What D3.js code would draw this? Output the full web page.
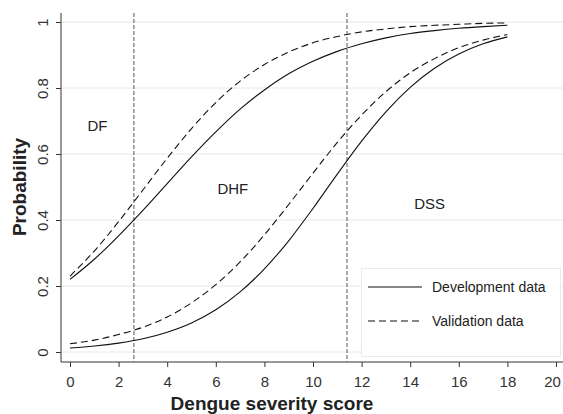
<!DOCTYPE html>
<html>
<head>
<meta charset="utf-8">
<script src="https://cdn.jsdelivr.net/npm/d3@7"></script>
<style>
  body { margin: 0; background: #fff; }
  svg { font-family: "Liberation Sans", Arial, sans-serif; }
</style>
</head>
<body>
<svg id="chart" width="563" height="414"></svg>
<script>
// score values
const scores = [0, 1, 2, 3, 4, 5, 6, 7, 8, 9, 10, 11, 12, 13, 14, 15, 16, 17, 18];
// upper curves (DHF or worse), lower curves (DSS)
const devUpper = [0.220, 0.281, 0.352, 0.429, 0.510, 0.591, 0.667, 0.736, 0.794, 0.843, 0.881, 0.911, 0.934, 0.952, 0.965, 0.974, 0.981, 0.986, 0.990];
const valUpper = [0.230, 0.306, 0.395, 0.491, 0.587, 0.677, 0.756, 0.821, 0.871, 0.909, 0.937, 0.956, 0.970, 0.979, 0.986, 0.990, 0.993, 0.996, 0.997];
const devLower = [0.012, 0.018, 0.027, 0.040, 0.060, 0.088, 0.128, 0.182, 0.252, 0.337, 0.435, 0.539, 0.639, 0.728, 0.802, 0.860, 0.903, 0.934, 0.955];
const valLower = [0.025, 0.036, 0.053, 0.075, 0.106, 0.149, 0.204, 0.273, 0.355, 0.447, 0.542, 0.635, 0.718, 0.789, 0.846, 0.889, 0.922, 0.945, 0.962];
const cutoffs = [2.63, 11.4];
const xTicks = [0, 2, 4, 6, 8, 10, 12, 14, 16, 18, 20];
const yTicks = [0, 0.2, 0.4, 0.6, 0.8, 1];
const zones = [
  { label: 'DF', x: 1.13, y: 0.67 },
  { label: 'DHF', x: 6.7, y: 0.479 },
  { label: 'DSS', x: 14.8, y: 0.433 }
];

const svg = d3.select('#chart');
const plotLeft = 61, plotRight = 563, plotBottom = 362, plotTop = 13;

const x = d3.scaleLinear().domain([0, 20]).range([70, 556]);
const y = d3.scaleLinear().domain([0, 1]).range([352, 22]);

// gridlines
svg.append('g').selectAll('line').data(yTicks).join('line')
  .attr('x1', plotLeft).attr('x2', plotRight)
  .attr('y1', d => y(d)).attr('y2', d => y(d))
  .attr('stroke', '#e8e8e8').attr('stroke-width', 1);

// axes
const yAxis = svg.append('g')
  .attr('transform', `translate(${plotLeft},0)`)
  .call(d3.axisLeft(y).tickValues(yTicks).tickFormat(d3.format('~g')).tickSize(5).tickSizeOuter(0));
yAxis.select('.domain').attr('d', `M0,${plotTop}V${plotBottom}`);
yAxis.selectAll('.tick text')
  .attr('transform', 'rotate(-90)')
  .attr('x', 0).attr('y', -13)
  .attr('dy', 0)
  .attr('text-anchor', 'middle');

const xAxis = svg.append('g')
  .attr('transform', `translate(0,${plotBottom})`)
  .call(d3.axisBottom(x).tickValues(xTicks).tickSize(5).tickSizeOuter(0));
xAxis.select('.domain').attr('d', `M${plotLeft},0H${plotRight}`);
xAxis.selectAll('.tick text')
  .attr('y', 14)
  .attr('x', d => d === 20 ? -4 : 0); // last label pulled in to fit

svg.selectAll('.tick text').attr('font-size', 15).attr('fill', '#333');
svg.selectAll('g').attr('font-family', null);
svg.selectAll('.domain, .tick line').attr('stroke', '#333');

// cutoff lines
svg.append('g').selectAll('line').data(cutoffs).join('line')
  .attr('x1', d => x(d)).attr('x2', d => x(d))
  .attr('y1', plotTop).attr('y2', plotBottom)
  .attr('stroke', '#555').attr('stroke-width', 1)
  .attr('stroke-dasharray', '4,2');

// curves
const line = d3.line()
  .x((d, i) => x(scores[i]))
  .y(d => y(d))
  .curve(d3.curveMonotoneX);

const series = [
  { values: devUpper, dash: null },
  { values: valUpper, dash: '7,4' },
  { values: devLower, dash: null },
  { values: valLower, dash: '7,4' }
];
svg.append('g').selectAll('path').data(series).join('path')
  .attr('d', d => line(d.values))
  .attr('fill', 'none')
  .attr('stroke', '#111')
  .attr('stroke-width', 1.1)
  .attr('stroke-dasharray', d => d.dash);

// zone labels
svg.append('g').selectAll('text').data(zones).join('text')
  .attr('x', d => x(d.x)).attr('y', d => y(d.y))
  .attr('text-anchor', 'middle')
  .attr('font-size', 15).attr('fill', '#222')
  .text(d => d.label);

// legend
const legend = svg.append('g');
legend.append('rect')
  .attr('x', 361.5).attr('y', 268.5).attr('width', 199).attr('height', 88)
  .attr('fill', '#fff').attr('stroke', '#eaeaea');
const legendItems = [
  { label: 'Development data', dash: null, ly: 287 },
  { label: 'Validation data', dash: '7,4', ly: 321 }
];
legendItems.forEach(it => {
  legend.append('line')
    .attr('x1', 368).attr('x2', 422).attr('y1', it.ly).attr('y2', it.ly)
    .attr('stroke', '#111').attr('stroke-width', 1.1)
    .attr('stroke-dasharray', it.dash);
  legend.append('text')
    .attr('x', 432).attr('y', it.ly).attr('dy', '0.35em')
    .attr('font-size', 14).attr('fill', '#222')
    .text(it.label);
});

// axis titles
svg.append('text')
  .attr('x', 272).attr('y', 410)
  .attr('text-anchor', 'middle')
  .attr('font-size', 19).attr('font-weight', 'bold').attr('fill', '#222')
  .text('Dengue severity score');
svg.append('text')
  .attr('transform', 'translate(26,187) rotate(-90)')
  .attr('text-anchor', 'middle')
  .attr('font-size', 19).attr('font-weight', 'bold').attr('fill', '#222')
  .text('Probability');
</script>
</body>
</html>
